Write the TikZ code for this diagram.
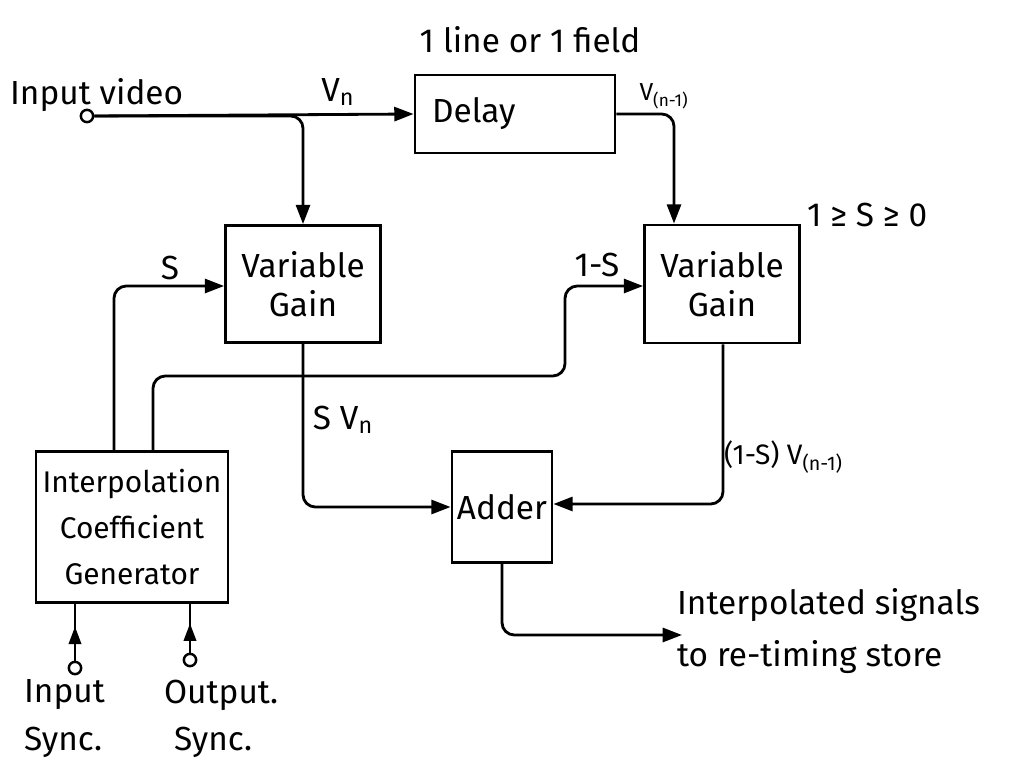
\documentclass[tikz,border=0pt]{standalone}
\usepackage{fontspec}
\setmainfont{Fira Sans}
\usetikzlibrary{arrows.meta,decorations.markings}
\tikzset{
  blk/.style={draw,line width=1.6pt,inner sep=0pt,align=center},
  wire/.style={line width=1.6pt,rounded corners=7pt},
  arr/.style={wire,-{Triangle[length=11pt,width=8pt]}},
  term/.style={circle,draw,line width=1.4pt,minimum size=7pt,inner sep=0pt},
  lbl/.style={font=\fontsize{19}{22}\selectfont,inner sep=1pt},
  midarr/.style={line width=1.6pt,postaction={decorate},decoration={markings,mark=at position 0.6 with {\arrow{Triangle[length=10pt,width=7pt]}}}}
}
\begin{document}
\begin{tikzpicture}[x=0.02cm,y=-0.02cm]
\useasboundingbox (0,0) rectangle (1014,773);
% blocks
\node[blk,minimum width=200*0.02cm,minimum height=78*0.02cm] (delay) at (515,114) {};
\node[lbl,anchor=west] at (430,114) {Delay};
\node[blk,minimum width=155*0.02cm,minimum height=117*0.02cm,lbl] (vg1) at (303,284) {Variable\\Gain};
\node[blk,minimum width=155*0.02cm,minimum height=118*0.02cm,lbl] (vg2) at (722,284) {Variable\\Gain};
\node[blk,minimum width=100*0.02cm,minimum height=111*0.02cm,lbl] (add) at (502,507) {Adder};
\node[blk,minimum width=192*0.02cm,minimum height=151*0.02cm,font=\fontsize{17}{26}\selectfont] (icg) at (132,527) {Interpolation\\Coefficient\\Generator};
% terminals
\node[term] (vin) at (87,116) {};
\node[term] (isync) at (75,668) {};
\node[term] (osync) at (190,660) {};
% coordinates
\coordinate (out) at (682,635);
% texts
\node[lbl,anchor=west] at (8,95) {Input video};
\node[lbl] at (530,40) {1 line or 1 field};
\node[lbl] at (338,92) {V\textsubscript{n}};
\node[lbl,font=\fontsize{14}{16}\selectfont] at (664,96) {V\textsubscript{(n-1)}};
\node[lbl,anchor=west] at (805,215) {1 ≥ S ≥ 0};
\node[lbl] at (170,268) {S};
\node[lbl] at (597,265) {1-S};
\node[lbl] at (343,420) {S V\textsubscript{n}};
\node[lbl,anchor=west,font=\fontsize{16}{18}\selectfont] at (722,457) {(1-S) V\textsubscript{(n-1)}};
\node[lbl,anchor=west] at (675,605) {Interpolated signals};
\node[lbl,anchor=west] at (675,657) {to re-timing store};
\node[lbl,anchor=west] at (22,695) {Input};
\node[lbl,anchor=west] at (22,742) {Sync.};
\node[lbl,anchor=west] at (162,695) {Output.};
\node[lbl,anchor=west] at (172,742) {Sync.};
% connectors
\draw[arr] (vin.east) -- (delay.west);
\draw[arr] (vin.east) -| (vg1.north);
\draw[arr] (delay.east) -| ([xshift=-48*0.02cm]vg2.north);
\draw[arr] ([xshift=-18*0.02cm]icg.north) |- ([yshift=-2*0.02cm]vg1.west);
\draw[arr] ([xshift=21*0.02cm]icg.north) |- (565,376) |- ([yshift=-2*0.02cm]vg2.west);
\draw[arr] (vg1.south) |- (add.west);
\draw[arr] ([xshift=1*0.02cm]vg2.south) |- ([yshift=3*0.02cm]add.east);
\draw[arr] (add.south) |- (out);
\draw[midarr] (isync.north) -- (isync.north |- icg.south);
\draw[midarr] (osync.north) -- (osync.north |- icg.south);
\end{tikzpicture}
\end{document}
